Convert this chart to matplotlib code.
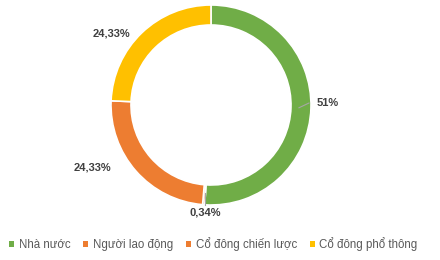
import matplotlib
matplotlib.use("Agg")
import matplotlib.pyplot as plt
from matplotlib.patches import Patch
import numpy as np

categories = ["Nhà nước", "Người lao động", "Cổ đông chiến lược", "Cổ đông phổ thông"]
shares = [51, 0.34, 24.33, 24.33]
labels = ["51%", "0,34%", "24,33%", "24,33%"]
colors = ["#70AD47", "#ED7D31", "#ED7D31", "#FFC000"]

# label placement (data coords, pie radius = 1)
label_pos = [(1.17, 0.02), (-0.06, -1.07), (-1.19, -0.63), (-1.0, 0.72)]

plt.rcParams["font.family"] = ["Liberation Sans", "DejaVu Sans"]

fig = plt.figure(figsize=(4.4, 2.6), dpi=100)
ax = fig.add_axes([111 / 440, 55 / 260, 200 / 440, 200 / 260])

wedges, _ = ax.pie(shares, colors=colors, startangle=90, counterclock=False,
                   radius=1.0,
                   wedgeprops=dict(width=0.2, edgecolor="white", linewidth=1.2))
ax.set_xlim(-1, 1)
ax.set_ylim(-1, 1)
ax.set_aspect("equal")
ax.axis("off")

for lab, (lx, ly) in zip(labels, label_pos):
    ax.text(lx, ly, lab, ha="center", va="center", fontsize=8,
            color="#404040", fontweight="bold", clip_on=False)

# leader lines for the two labels that sit close to the ring
for i in [0, 1]:
    w = wedges[i]
    ang = np.deg2rad((w.theta1 + w.theta2) / 2)
    x0, y0 = 0.88 * np.cos(ang), 0.88 * np.sin(ang)
    lx, ly = label_pos[i]
    if i == 0:
        x1, y1 = lx - 0.19, ly
    else:
        x1, y1 = x0, ly + 0.07
    ax.plot([x0, x1], [y0, y1], color="#A6A6A6", lw=0.8, clip_on=False)

handles = [Patch(facecolor=c, edgecolor="none") for c in colors]
fig.legend(handles, categories, loc="center", bbox_to_anchor=(0.485, 16 / 260),
           ncol=4, frameon=False, fontsize=8.3, handlelength=0.45, handleheight=0.45,
           handletextpad=0.4, columnspacing=1.1, labelcolor="#595959")

fig.savefig("out.png", dpi=100)
